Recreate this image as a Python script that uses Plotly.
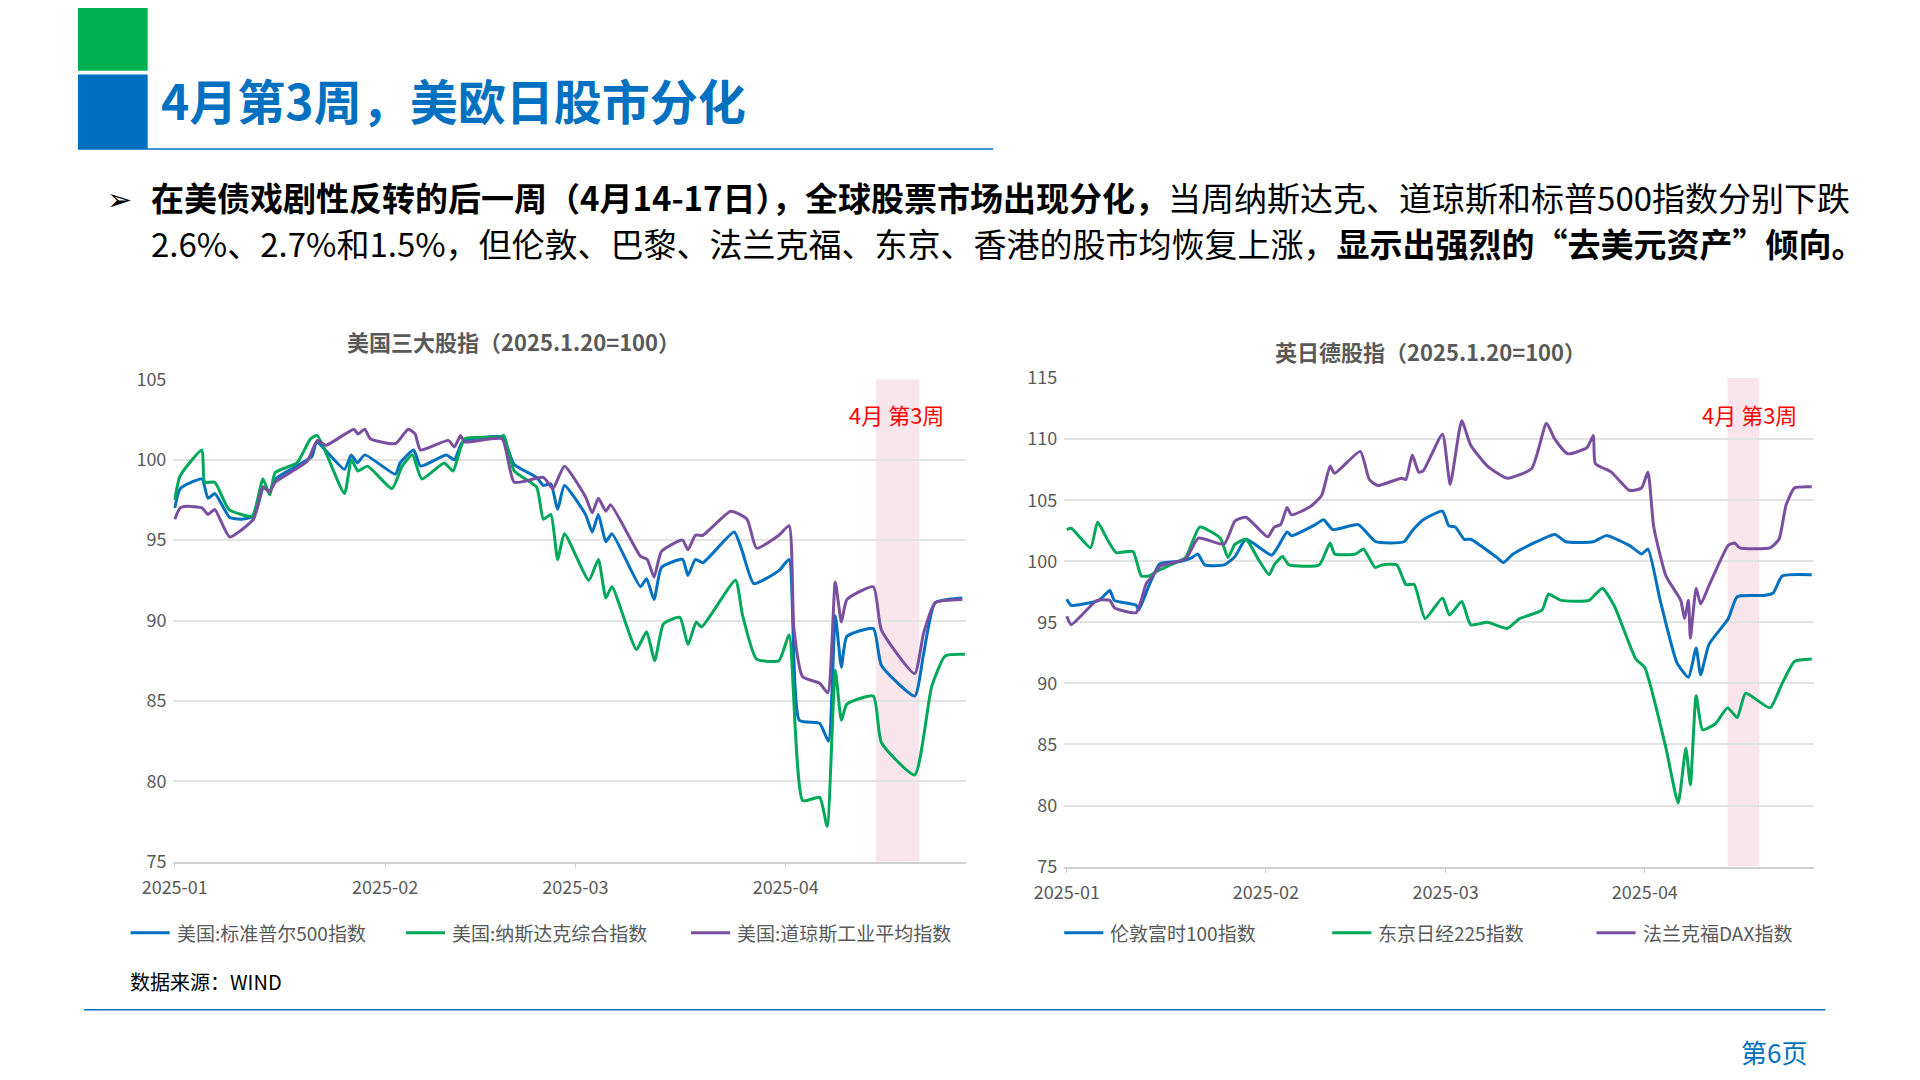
import plotly.graph_objects as go

# ---- data (x = days since 2025-01-01) ----
us_tick_vals = [0, 31, 59, 90]
us_tick_text = ['2025-01', '2025-02', '2025-03', '2025-04']

spx_x = [0, 0.8, 4, 4.9, 5.9, 8.1, 9.7, 11.7, 13.1, 14, 14.8, 20.2, 20.9, 25, 26, 26.9, 28, 32.5, 33.2, 35.2, 36.2,
         40, 41.2, 42.4, 48.2, 50, 53.3, 54.3, 55.4, 56.4, 57.4, 60.5, 61.5, 62.4, 63.5, 64.4, 68.6, 69.5, 70.6, 71.7,
         74.8, 75.6, 76.7, 77.8, 82.4, 83.6, 85.3, 89, 90.5, 92, 95, 96.3, 97.3, 98.2, 99, 102.9, 104.1, 109, 110.3,
         112, 116]
spx_y = [97.0, 98.2, 98.8, 97.6, 97.9, 96.4, 96.3, 96.5, 98.3, 98.0, 98.8, 100.2, 101.1, 99.4, 100.3, 99.8, 100.3,
         99.1, 99.8, 100.6, 99.6, 100.3, 100.0, 101.1, 101.4, 99.7, 98.9, 98.4, 98.5, 96.9, 98.4, 96.6, 95.5, 96.6,
         94.9, 95.4, 92.1, 92.6, 91.3, 93.3, 93.8, 92.8, 93.8, 93.6, 95.5, 94.3, 92.3, 93.1, 93.8, 83.8, 83.6, 82.5,
         90.3, 87.1, 89.0, 89.5, 87.2, 85.3, 87.9, 91.1, 91.4]

ixic_x = [0, 0.8, 4, 4.4, 5.9, 8, 11.4, 13, 14, 14.8, 18, 20, 21, 25, 26, 27, 28.4, 32, 33.5, 35, 36.4, 39.7, 41,
          42.7, 47.9, 48.5, 50, 53.3, 54.3, 55.4, 56.4, 57.4, 61, 62.4, 63.5, 64.4, 68, 69.5, 70.7, 72, 74.4, 75.6,
          76.8, 77.6, 82.6, 83.6, 85.7, 89, 90.5, 92.5, 95, 96.1, 97.3, 98.2, 99, 102.9, 104.1, 109, 111.5, 113.5,
          116.4]
ixic_y = [97.5, 99.0, 100.6, 98.6, 98.6, 96.9, 96.5, 98.8, 97.8, 99.2, 99.8, 101.3, 101.5, 97.9, 100.0, 99.3, 99.6,
          98.2, 99.6, 100.3, 98.8, 99.8, 99.3, 101.3, 101.4, 101.5, 99.3, 98.3, 96.3, 96.6, 93.8, 95.4, 92.5, 93.8,
          91.4, 92.1, 88.2, 89.3, 87.5, 89.8, 90.2, 88.5, 89.9, 89.6, 92.5, 90.4, 87.6, 87.5, 89.1, 78.8, 79.0, 77.2,
          86.9, 83.8, 84.8, 85.3, 82.4, 80.4, 85.9, 87.8, 87.9]

dji_x = [0, 0.8, 1.8, 4, 4.9, 5.9, 8.1, 11.6, 13, 14, 14.8, 19.5, 21, 22.3, 26.4, 27, 28, 28.8, 32.5, 34.4, 35.4,
         36.2, 40.3, 41.2, 42.1, 42.7, 48.2, 50, 54.3, 55.7, 57.4, 60.5, 61.5, 62.4, 63.5, 64.2, 68.6, 69.6, 70.6,
         71.7, 74.8, 75.6, 76.7, 77.8, 81.9, 84.3, 85.7, 89, 90.5, 91.2, 92.5, 95, 96.2, 97.3, 98.2, 99, 102.9, 104.1,
         109, 110.3, 112, 116]
dji_y = [96.3, 97.0, 97.1, 97.0, 96.6, 96.9, 95.2, 96.3, 98.3, 98.0, 98.6, 99.9, 101.2, 100.9, 101.9, 101.6, 101.9,
         101.3, 101.0, 101.9, 101.6, 100.6, 101.2, 100.8, 101.5, 101.1, 101.3, 98.6, 98.9, 98.2, 99.6, 97.7, 96.7,
         97.6, 96.8, 97.2, 94.0, 93.8, 92.7, 94.3, 95.0, 94.4, 95.3, 95.3, 96.8, 96.3, 94.5, 95.3, 95.9, 89.5, 86.5,
         86.1, 85.5, 92.4, 89.9, 91.3, 92.1, 89.4, 86.7, 89.2, 91.1, 91.3]

ftse_x = [0, 0.7, 5, 6.7, 7.4, 10.8, 11.2, 12.8, 14.5, 17.8, 19.5, 20.4, 21.5, 24.5, 26.2, 27.9, 31.9, 32.9, 34.3,
          35, 38.7, 40, 41.4, 45.4, 48.1, 52.5, 53.8, 55.5, 58.5, 59.5, 60.5, 61.9, 62.9, 67, 68, 69.5, 76, 77.7, 82,
          84, 87.6, 89.5, 90.5, 92.4, 95, 96.8, 98, 98.7, 100, 103, 104.4, 108.6, 110, 111.4, 116]
ftse_y = [96.9, 96.4, 96.8, 97.6, 96.8, 96.4, 96.0, 98.0, 99.8, 100.0, 100.3, 100.6, 99.7, 99.7, 100.4, 101.8,
          100.5, 101.2, 102.4, 102.1, 103.0, 103.4, 102.6, 103.0, 101.6, 101.6, 102.5, 103.4, 104.1, 102.9, 102.8,
          101.8, 101.8, 100.3, 99.9, 100.6, 102.2, 101.6, 101.6, 102.1, 101.3, 100.6, 101.0, 96.8, 91.7, 90.5, 92.9,
          90.7, 93.2, 95.3, 97.1, 97.2, 97.4, 98.8, 98.9]

n225_x = [0, 0.7, 3.7, 4.8, 6.4, 7.7, 10.3, 11.6, 12.8, 14.1, 16.1, 18.5, 20.7, 23.9, 25.1, 26.2, 27.9, 29.9, 31.5,
          32.3, 33.6, 34.6, 39.3, 41, 41.7, 45, 46.2, 48, 49.1, 51.4, 52.8, 54.1, 55.8, 58.5, 59.6, 61.5, 62.9, 65.5,
          68.6, 70.5, 74, 75, 77, 81.3, 83.4, 85.3, 88.6, 90, 93.3, 95.2, 96.4, 97.1, 98, 99, 101, 102.9, 104.4, 105.7,
          109.5, 111.4, 113.3, 116]
n225_y = [102.6, 102.7, 101.1, 103.2, 101.7, 100.7, 100.8, 98.8, 98.8, 99.2, 99.7, 100.3, 102.8, 101.9, 100.3,
          101.4, 101.8, 100.1, 98.9, 99.7, 100.4, 99.7, 99.7, 101.5, 100.6, 100.6, 101.0, 99.5, 99.7, 99.7, 98.1, 98.1,
          95.3, 97.0, 95.6, 96.7, 94.8, 95.0, 94.5, 95.3, 96.0, 97.3, 96.8, 96.8, 97.8, 96.3, 92.0, 91.3, 84.7, 80.2,
          84.7, 81.7, 89.0, 86.2, 86.7, 88.0, 87.2, 89.2, 88.0, 90.0, 91.8, 92.0]

dax_x = [0, 0.7, 4.7, 6.7, 7.4, 10.8, 12.4, 13.4, 14.5, 18.5, 20.5, 24.5, 26.2, 27.9, 31.3, 32.3, 33.3, 34.3, 35,
         38, 39.7, 41, 41.7, 45.7, 47.1, 48.4, 52.1, 52.8, 53.8, 54.8, 55.5, 58.5, 59.7, 61.5, 62.9, 65.5, 68.6, 72.4,
         74.7, 76, 78, 81, 82, 82.3, 84.8, 87.6, 89.5, 90.5, 91.4, 93.3, 95.6, 96.2, 96.8, 97.1, 98, 98.7, 100, 103,
         104, 104.8, 109.5, 110.9, 112, 113.3, 116]
dax_y = [95.5, 94.8, 96.8, 96.8, 96.2, 95.8, 98.2, 98.8, 99.6, 100.2, 101.9, 101.4, 103.3, 103.6, 102.0, 102.8,
         103.0, 104.4, 103.8, 104.5, 105.4, 107.8, 107.2, 109.0, 106.7, 106.2, 106.8, 106.7, 108.7, 107.3, 107.4,
         110.4, 106.3, 111.5, 109.5, 107.8, 106.8, 107.6, 111.3, 110.0, 108.8, 109.3, 110.3, 108.0, 107.3, 105.8,
         106.0, 107.3, 102.8, 98.8, 96.8, 95.3, 96.8, 93.7, 97.8, 96.5, 98.0, 101.3, 101.5, 101.1, 101.1, 101.8,
         104.6, 106.0, 106.1]

us_week3 = [103.3, 109.7]
eu_week3 = [102.9, 107.8]

BLUE, GREEN, PURPLE = '#0070c0', '#00a859', '#7a4fa0'
GRAY = '#595959'
FONT = 'Noto Sans CJK SC'

W, H = 1568.0, 882.0  # reference layout units


def px(x):
    return ((x - 31) / 0.984) / W


def py(y):
    return 1 - ((y - 18) / 0.976) / H


fig = go.Figure()

left = [('美国:标准普尔500指数', spx_x, spx_y, BLUE),
        ('美国:纳斯达克综合指数', ixic_x, ixic_y, GREEN),
        ('美国:道琼斯工业平均指数', dji_x, dji_y, PURPLE)]
right = [('伦敦富时100指数', ftse_x, ftse_y, BLUE),
         ('东京日经225指数', n225_x, n225_y, GREEN),
         ('法兰克福DAX指数', dax_x, dax_y, PURPLE)]

for name, xs, ys, c in left:
    fig.add_trace(go.Scatter(x=xs, y=ys, name=name, mode='lines', xaxis='x', yaxis='y',
                             line=dict(color=c, width=3, shape='spline', smoothing=0.5)))
for name, xs, ys, c in right:
    fig.add_trace(go.Scatter(x=xs, y=ys, name=name, mode='lines', xaxis='x2', yaxis='y2',
                             line=dict(color=c, width=3, shape='spline', smoothing=0.5)))

ax = dict(showgrid=False, showline=True, linecolor='#d0d0d0', linewidth=1.5, ticks='outside', ticklen=5,
          tickcolor='#d0d0d0', tickvals=us_tick_vals, ticktext=us_tick_text, zeroline=False,
          ticklabelstandoff=4, tickfont=dict(size=18, color=GRAY, family=FONT))
ay = dict(showgrid=True, gridcolor='#e3e3e3', gridwidth=1.5, zeroline=False, showline=False, ticks='',
          ticklabelstandoff=6, tickfont=dict(size=18, color=GRAY, family=FONT), dtick=5)

fig.update_layout(
    width=1920, height=1080, margin=dict(l=0, r=0, t=0, b=0),
    paper_bgcolor='white', plot_bgcolor='white', showlegend=False,
    font=dict(family=FONT),
    xaxis=dict(ax, domain=[px(140), px(788)], range=[-0.2, 116.6], anchor='y'),
    yaxis=dict(ay, domain=[py(703), py(309)], range=[75, 105], anchor='x'),
    xaxis2=dict(ax, domain=[px(868), px(1481)], range=[-0.4, 116.4], anchor='y2'),
    yaxis2=dict(ay, domain=[py(707), py(308)], range=[75, 115], anchor='x2'),
)

# week-3 shading
fig.add_shape(type='rect', xref='x', yref='y', x0=us_week3[0], x1=us_week3[1], y0=75, y1=105,
              fillcolor='rgba(242,200,212,0.45)', line_width=0, layer='below')
fig.add_shape(type='rect', xref='x2', yref='y2', x0=eu_week3[0], x1=eu_week3[1], y0=75, y1=115,
              fillcolor='rgba(242,200,212,0.45)', line_width=0, layer='below')

# page decoration
fig.add_shape(type='rect', xref='paper', yref='paper', x0=px(62), x1=px(119), y0=py(57), y1=1.02,
              fillcolor='#00b050', line_width=0)
fig.add_shape(type='rect', xref='paper', yref='paper', x0=px(62), x1=px(119), y0=py(121), y1=py(60),
              fillcolor=BLUE, line_width=0)
fig.add_shape(type='line', xref='paper', yref='paper', x0=px(62), x1=px(810), y0=py(121), y1=py(121),
              line=dict(color=BLUE, width=1.5))
fig.add_shape(type='line', xref='paper', yref='paper', x0=px(67), x1=px(1490), y0=py(824), y1=py(824),
              line=dict(color=BLUE, width=1.5))


def note(x, y, text, size, color='black', xanchor='left'):
    fig.add_annotation(xref='paper', yref='paper', x=px(x), y=py(y), text=text, showarrow=False,
                       xanchor=xanchor, yanchor='middle', font=dict(size=size, color=color, family=FONT))


note(128, 80, '<b>4月第3周，美欧日股市分化</b>', 48, BLUE)
note(84, 160, '➢', 30)
note(120, 160, '<b>在美债戏剧性反转的后一周（4月14-17日），全球股票市场出现分化，</b>'
               '当周纳斯达克、道琼斯和标普500指数分别下跌', 33)
note(120, 198, '2.6%、2.7%和1.5%，但伦敦、巴黎、法兰克福、东京、香港的股市均恢复上涨，'
               '<b>显示出强烈的“去美元资产”倾向。</b>', 33)
note(418, 278, '<b>美国三大股指（2025.1.20=100）</b>', 22, GRAY, 'center')
note(1167, 286, '<b>英日德股指（2025.1.20=100）</b>', 22, GRAY, 'center')
note(731, 337, '4月 第3周', 22, 'red', 'center')
note(1428, 337, '4月 第3周', 22, 'red', 'center')
note(103, 801, '数据来源：WIND', 20)
note(1448, 858, '第6页', 26, BLUE, 'center')

# legends
legend_pos = [105, 330, 563, 868, 1087, 1303]
for (name, _, _, c), lx in zip(left + right, legend_pos):
    fig.add_shape(type='line', xref='paper', yref='paper', x0=px(lx), x1=px(lx + 32), y0=py(761), y1=py(761),
                  line=dict(color=c, width=3))
    note(lx + 36, 761, name, 19, GRAY)

fig.write_html('out.html')
